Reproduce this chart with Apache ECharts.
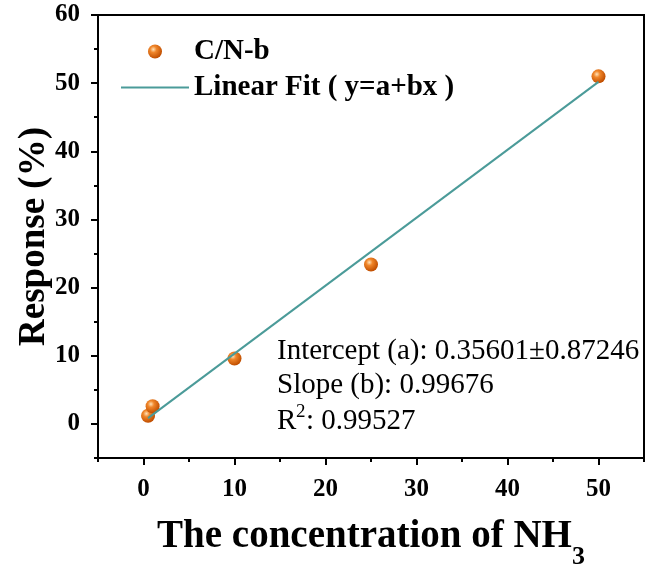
<!DOCTYPE html>
<html><head><meta charset="utf-8">
<script src="https://cdn.jsdelivr.net/npm/echarts@6/dist/echarts.min.js"></script>
<style>html,body{margin:0;padding:0;background:#fff}#c{width:646px;height:565px}</style>
</head><body><div id="c"></div>
<script>
// ---- data ----
const concX = [0.5, 1, 10, 25, 50];
const responseY = [1.2, 2.6, 9.6, 23.4, 51.0];
const fitX = [0.5, 50];
const fitY = [0.85, 50.19];
const xMajorTicks = [0, 10, 20, 30, 40, 50];
const xMinorTicks = [-5, 5, 15, 25, 35, 45, 55];
const yMajorTicks = [0, 10, 20, 30, 40, 50, 60];
const yMinorTicks = [-5, 5, 15, 25, 35, 45, 55];
const seriesNames = ['C/N-b', 'Linear Fit ( y=a+bx )'];
const fitLines = ['Intercept (a): 0.35601\u00b10.87246', 'Slope (b): 0.99676'];
const r2Value = ': 0.99527';

const FONT = '"Liberation Serif", "Times New Roman", serif';
const black = '#000';
const fitColor = '#4b9b99';

const chart = echarts.init(document.getElementById('c'), null, {renderer: 'canvas'});

const tickLabel = {color: black, fontFamily: FONT, fontWeight: 'bold', fontSize: 25};

const option = {
  backgroundColor: '#fff',
  animation: false,
  grid: {left: 98, right: 2, top: 15, bottom: 107, containLabel: false, outerBoundsMode: 'none',
    show: true, borderColor: black, borderWidth: 2, backgroundColor: 'transparent'},
  legend: {
    data: [
      {name: seriesNames[0], icon: 'circle'},
      {name: seriesNames[1], icon: 'path://M0,0H68V2H0Z', itemStyle: {color: fitColor}}
    ],
    orient: 'vertical', left: 116, top: 32,
    itemWidth: 68, itemHeight: 14, itemGap: 7,
    textStyle: {color: black, fontFamily: FONT, fontWeight: 'bold', fontSize: 29}
  },
  xAxis: [{
    type: 'value', min: -5, max: 55, position: 'bottom',
    axisLine: {show: true, onZero: false, lineStyle: {color: black, width: 2}},
    axisTick: {show: true, customValues: xMajorTicks, length: 7, lineStyle: {color: black, width: 2}},
    axisLabel: Object.assign({customValues: xMajorTicks, margin: 19}, tickLabel),
    splitLine: {show: false},
    name: '{m|The concentration of NH}{s|3}',
    nameLocation: 'middle', nameGap: 59, nameMoveOverlap: false,
    nameTextStyle: {
      rich: {
        m: {fontFamily: FONT, fontWeight: 'bold', fontSize: 39, color: black, lineHeight: 39, verticalAlign: 'top'},
        s: {fontFamily: FONT, fontWeight: 'bold', fontSize: 26, color: black, lineHeight: 26, verticalAlign: 'top', padding: [27, 0, 0, 0]}
      }
    }
  }, {
    type: 'value', min: -5, max: 55, position: 'bottom',
    axisLine: {show: false, onZero: false},
    axisTick: {show: true, customValues: xMinorTicks, length: 4, lineStyle: {color: black, width: 2}},
    axisLabel: {show: false}, splitLine: {show: false}
  }],
  yAxis: [{
    type: 'value', min: -5, max: 60, position: 'left',
    axisLine: {show: true, onZero: false, lineStyle: {color: black, width: 2}},
    axisTick: {show: true, customValues: yMajorTicks, length: 7, lineStyle: {color: black, width: 2}},
    axisLabel: Object.assign({customValues: yMajorTicks, margin: 18}, tickLabel),
    splitLine: {show: false},
    name: 'Response (%)', nameLocation: 'middle', nameGap: 45, nameMoveOverlap: false,
    nameTextStyle: {fontFamily: FONT, fontWeight: 'bold', fontSize: 37, color: black}
  }, {
    type: 'value', min: -5, max: 60, position: 'left', offset: 0,
    axisLine: {show: false, onZero: false},
    axisTick: {show: true, customValues: yMinorTicks, length: 4, lineStyle: {color: black, width: 2}},
    axisLabel: {show: false}, splitLine: {show: false}
  }],
  series: [{
    name: seriesNames[0], type: 'scatter', xAxisIndex: 0, yAxisIndex: 0,
    symbol: 'circle', symbolSize: 14,
    data: concX.map((x, i) => [x, responseY[i]]),
    itemStyle: {
      color: {type: 'radial', x: 0.38, y: 0.35, r: 0.65, colorStops: [
        {offset: 0, color: '#ffe2b8'}, {offset: 0.35, color: '#f0862a'}, {offset: 1, color: '#c04e00'}]},
      opacity: 1
    },
    z: 2
  }, {
    name: seriesNames[1], type: 'line', xAxisIndex: 0, yAxisIndex: 0,
    symbol: 'none', data: fitX.map((x, i) => [x, fitY[i]]),
    lineStyle: {color: fitColor, width: 2},
    itemStyle: {color: fitColor},
    z: 3
  }],
  graphic: [
    {type: 'text', left: 277, top: 337, style: {text: fitLines[0], font: '29px ' + FONT, fill: black}},
    {type: 'text', left: 277, top: 371, style: {text: fitLines[1], font: '29px ' + FONT, fill: black}},
    {type: 'text', left: 277, top: 407, style: {text: 'R', font: '29px ' + FONT, fill: black}},
    {type: 'text', left: 296, top: 403, style: {text: '2', font: '19px ' + FONT, fill: black}},
    {type: 'text', left: 306, top: 407, style: {text: r2Value, font: '29px ' + FONT, fill: black}}
  ]
};
chart.setOption(option);
</script>
</body></html>
